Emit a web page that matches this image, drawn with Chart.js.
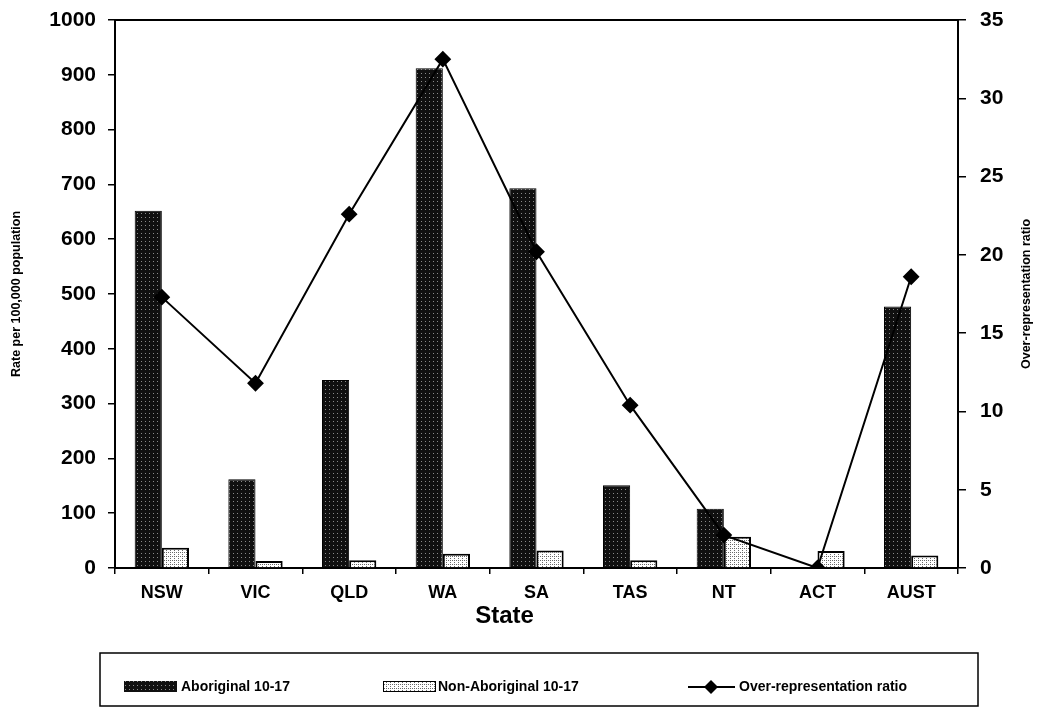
<!DOCTYPE html>
<html>
<head>
<meta charset="utf-8">
<script src="https://cdn.jsdelivr.net/npm/chart.js@4.4.1/dist/chart.umd.min.js"></script>
<style>
  html, body { margin: 0; padding: 0; background: #fff; }
  #wrap { width: 1038px; height: 717px; }
</style>
</head>
<body>
<div id="wrap"><canvas id="chart" width="1038" height="717"></canvas></div>
<script>
// Values
const states = ['NSW', 'VIC', 'QLD', 'WA', 'SA', 'TAS', 'NT', 'ACT', 'AUST'];
const aboriginal = [652, 162, 343, 912, 693, 151, 108, 0, 477];
const nonAboriginal = [37, 13, 14, 26, 32, 14, 57, 31, 23];
const ratio = [17.3, 11.8, 22.6, 32.5, 20.2, 10.4, 2.1, 0, 18.6];

const leftTicks = { min: 0, max: 1000, step: 100 };
const rightTicks = { min: 0, max: 35, step: 5 };

const FONT = "'Liberation Sans', Arial, sans-serif";

// stipple fills like the scanned original
function makePattern(bg, dot, size, dots) {
    const c = document.createElement('canvas');
    c.width = c.height = size;
    const g = c.getContext('2d');
    g.fillStyle = bg;
    g.fillRect(0, 0, size, size);
    g.fillStyle = dot;
    dots.forEach(([x, y]) => g.fillRect(x, y, 1, 1));
    return g.createPattern(c, 'repeat');
}
const darkFill = makePattern('#101010', '#8a8a8a', 4, [[1, 1]]);
const lightFill = makePattern('#ffffff', '#6a6a6a', 4, [[0, 0], [2, 2], [2, 0]]);

function drawDiamond(ctx, x, y, r) {
    ctx.beginPath();
    ctx.moveTo(x, y - r);
    ctx.lineTo(x + r, y);
    ctx.lineTo(x, y + r);
    ctx.lineTo(x - r, y);
    ctx.closePath();
    ctx.fill();
}

// frame top line, axis titles and the boxed legend
const decorations = {
    id: 'decorations',
    afterDraw(chart) {
        const ctx = chart.ctx;
        const ca = chart.chartArea;
        ctx.save();

        ctx.strokeStyle = '#000';
        ctx.lineWidth = 2;
        ctx.beginPath();
        ctx.moveTo(ca.left, ca.top);
        ctx.lineTo(ca.right, ca.top);
        ctx.stroke();

        const midY = (ca.top + ca.bottom) / 2;
        ctx.fillStyle = '#000';
        ctx.font = 'bold 12.5px ' + FONT;
        ctx.textAlign = 'center';
        ctx.textBaseline = 'middle';
        [[17, 'Rate per 100,000 population'], [1027, 'Over-representation ratio']].forEach(([x, t]) => {
            ctx.save();
            ctx.translate(x, midY);
            ctx.rotate(-Math.PI / 2);
            ctx.fillText(t, 0, 0);
            ctx.restore();
        });

        // x axis title sits a little left of centre in the original
        ctx.font = 'bold 24px ' + FONT;
        ctx.fillText('State', (ca.left + ca.right) / 2 - 32, ca.bottom + 48);

        // legend
        const boxL = ca.left - 15, boxR = ca.right + 20, boxT = 653, boxB = 706;
        ctx.lineWidth = 1.5;
        ctx.strokeRect(boxL, boxT, boxR - boxL, boxB - boxT);

        const ly = 687;
        ctx.font = 'bold 14px ' + FONT;
        ctx.textAlign = 'left';

        ctx.fillStyle = darkFill;
        ctx.fillRect(124, ly - 6, 53, 11);
        ctx.fillStyle = '#000';
        ctx.fillText('Aboriginal 10-17', 181, ly);

        ctx.fillStyle = lightFill;
        ctx.fillRect(383, ly - 6, 53, 11);
        ctx.lineWidth = 1;
        ctx.strokeRect(383.5, ly - 5.5, 52, 10);
        ctx.fillStyle = '#000';
        ctx.fillText('Non-Aboriginal 10-17', 438, ly);

        ctx.lineWidth = 2;
        ctx.beginPath();
        ctx.moveTo(688, ly);
        ctx.lineTo(735, ly);
        ctx.stroke();
        drawDiamond(ctx, 711, ly, 7);
        ctx.fillText('Over-representation ratio', 739, ly);

        ctx.restore();
    }
};

new Chart(document.getElementById('chart'), {
    type: 'bar',
    data: {
        labels: states,
        datasets: [
            {
                type: 'line',
                label: 'Over-representation ratio',
                data: ratio,
                yAxisID: 'y1',
                borderColor: '#000',
                borderWidth: 2,
                pointStyle: 'rectRot',
                pointRadius: 7,
                pointBackgroundColor: '#000',
                pointBorderColor: '#000',
                tension: 0,
                order: 0
            },
            {
                label: 'Aboriginal 10-17',
                data: aboriginal,
                yAxisID: 'y',
                backgroundColor: darkFill,
                borderColor: '#000',
                borderWidth: 1,
                order: 1
            },
            {
                label: 'Non-Aboriginal 10-17',
                data: nonAboriginal,
                yAxisID: 'y',
                backgroundColor: lightFill,
                borderColor: '#000',
                borderWidth: 2,
                order: 1
            }
        ]
    },
    options: {
        responsive: false,
        animation: false,
        layout: { padding: { top: 20, left: 0, right: 0, bottom: 0 } },
        datasets: {
            bar: { categoryPercentage: 0.58, barPercentage: 1.0 }
        },
        plugins: {
            legend: { display: false },
            tooltip: { enabled: false }
        },
        scales: {
            x: {
                grid: { offset: true, drawOnChartArea: false, tickLength: 6, color: '#000', lineWidth: 1.5 },
                border: { color: '#000', width: 2 },
                ticks: {
                    color: '#000', font: { family: FONT, size: 18, weight: 'bold' },
                    padding: 8, maxRotation: 0, autoSkip: false
                },
                afterFit(scale) { scale.height = 149; }
            },
            y: {
                position: 'left',
                min: leftTicks.min, max: leftTicks.max,
                grid: { drawOnChartArea: false, tickLength: 7, color: '#000', lineWidth: 1.5 },
                border: { color: '#000', width: 2 },
                ticks: {
                    stepSize: leftTicks.step, color: '#000', padding: 12,
                    font: { family: FONT, size: 21, weight: 'bold' },
                    callback: v => String(v)
                },
                afterFit(scale) { scale.width = 115; scale.paddingTop = 0; scale.paddingBottom = 0; }
            },
            y1: {
                position: 'right',
                min: rightTicks.min, max: rightTicks.max,
                grid: { drawOnChartArea: false, tickLength: 8, color: '#000', lineWidth: 1.5 },
                border: { color: '#000', width: 2 },
                ticks: {
                    stepSize: rightTicks.step, color: '#000', padding: 14,
                    font: { family: FONT, size: 21, weight: 'bold' },
                    callback: v => String(v)
                },
                afterFit(scale) { scale.width = 80; scale.paddingTop = 0; scale.paddingBottom = 0; }
            }
        }
    },
    plugins: [decorations]
});
</script>
</body>
</html>
